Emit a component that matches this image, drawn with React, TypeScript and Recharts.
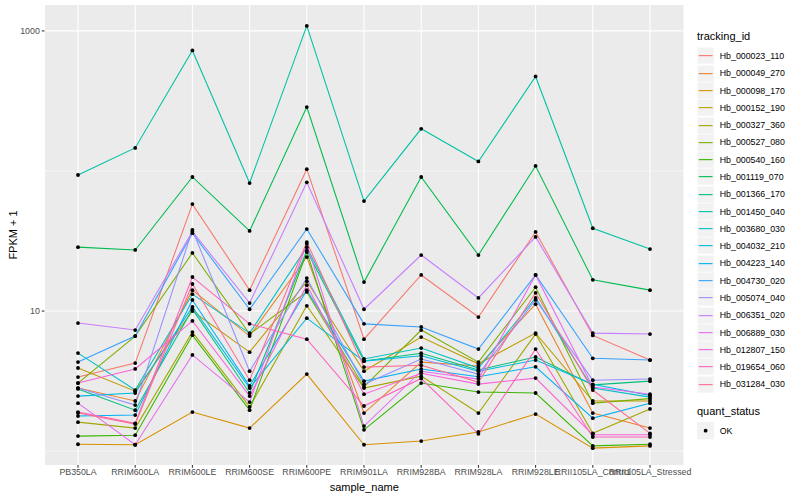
import React from "react";
import { ComposedChart, Line, XAxis, YAxis, CartesianGrid } from "recharts";

const samples = [
  "PB350LA", "RRIM600LA", "RRIM600LE", "RRIM600SE", "RRIM600PE", "RRIM901LA",
  "RRIM928BA", "RRIM928LA", "RRIM928LE", "RRII105LA_Control", "RRII105LA_Stressed",
];

const trackingIds = [
  "Hb_000023_110", "Hb_000049_270", "Hb_000098_170", "Hb_000152_190", "Hb_000327_360",
  "Hb_000527_080", "Hb_000540_160", "Hb_001119_070", "Hb_001366_170", "Hb_001450_040",
  "Hb_003680_030", "Hb_004032_210", "Hb_004223_140", "Hb_004730_020", "Hb_005074_040",
  "Hb_006351_020", "Hb_006889_030", "Hb_012807_150", "Hb_019654_060", "Hb_031284_030",
];

// FPKM + 1, one value per sample
const hb000023_110 = [3.38, 4.25, 58, 14.1, 103, 6.3, 18.1, 9.06, 36.7, 6.7, 4.47];
const hb000049_270 = [2.82, 2.28, 14.1, 6.63, 24.3, 1.87, 4.32, 4.05, 11.2, 1.87, 1.46];
const hb000098_170 = [1.12, 1.11, 1.9, 1.46, 3.55, 1.11, 1.18, 1.37, 1.84, 1.05, 1.09];
const hb000152_190 = [3.92, 2.68, 10, 5.09, 16.3, 3.72, 6.52, 4.2, 6.96, 2.28, 2.28];
const hb000327_360 = [1.61, 1.46, 7.08, 2.07, 10.9, 2.82, 3.43, 1.87, 6.85, 1.34, 2.0];
const hb000527_080 = [3.06, 6.63, 26, 6.85, 13.7, 2.87, 7.32, 4.32, 14.8, 2.2, 2.37];
const hb000540_160 = [1.28, 1.3, 6.73, 1.96, 26.4, 1.42, 3.06, 2.64, 2.6, 1.09, 1.12];
const hb001119_070 = [28.6, 27.3, 90.6, 37.3, 286, 16.1, 90.6, 25.1, 108.6, 16.7, 14.1];
const hb001366_170 = [2.78, 1.96, 10.3, 2.6, 27, 4.4, 5.0, 3.8, 4.7, 2.97, 3.16];
const hb001450_040 = [93.6, 146, 725, 82, 1086, 61, 200, 117, 473, 39, 27.7];
const hb003680_030 = [5.01, 2.73, 13.2, 6.96, 28.6, 4.55, 5.44, 3.92, 12.4, 2.82, 2.43];
const hb004032_210 = [2.47, 2.6, 10.7, 2.82, 8.9, 4.39, 4.8, 3.72, 4.47, 3.0, 2.5];
const hb004223_140 = [1.78, 1.81, 12, 2.92, 14.1, 3.16, 3.86, 3.4, 4.0, 1.72, 2.2];
const hb004730_020 = [4.32, 6.63, 36, 10.3, 38.5, 8.1, 7.7, 5.35, 18.1, 4.6, 4.47];
const hb005074_040 = [2.82, 2.13, 38, 3.72, 17.2, 3.0, 4.55, 3.55, 12.0, 3.21, 3.27];
const hb006351_020 = [8.21, 7.32, 37, 11.4, 83, 10.3, 25.1, 12.4, 33.8, 6.96, 6.85];
const hb006889_030 = [2.2, 1.11, 4.86, 2.24, 30.2, 1.51, 3.72, 3.27, 18.1, 2.87, 2.55];
const hb012807_150 = [3.06, 3.86, 8.5, 2.47, 15.3, 2.55, 3.6, 3.01, 3.32, 1.31, 1.31];
const hb019654_060 = [1.9, 1.58, 17.5, 8.1, 6.3, 2.1, 3.3, 1.33, 5.35, 1.26, 1.26];
const hb031284_030 = [1.87, 1.56, 15.6, 3.21, 31.1, 3.98, 4.1, 3.11, 13.5, 2.73, 1.34];

const seriesValues = [
  hb000023_110, hb000049_270, hb000098_170, hb000152_190, hb000327_360,
  hb000527_080, hb000540_160, hb001119_070, hb001366_170, hb001450_040,
  hb003680_030, hb004032_210, hb004223_140, hb004730_020, hb005074_040,
  hb006351_020, hb006889_030, hb012807_150, hb019654_060, hb031284_030,
];

// ggplot hue palette, 20 levels
const COLORS = [
  "#F8766D", "#EA8331", "#D89000", "#C09B00", "#A3A500", "#7CAE00", "#39B600",
  "#00BB4E", "#00BF7D", "#00C1A3", "#00BFC4", "#00BAE0", "#00B0F6", "#35A2FF",
  "#9590FF", "#C77CFF", "#E76BF3", "#FA62DB", "#FF62BC", "#FF6C91",
];

const yTicks = [10, 1000];

const chartData = samples.map((sample, i) => {
  const row: Record<string, string | number> = { sample };
  trackingIds.forEach((id, k) => {
    row[id] = seriesValues[k][i];
  });
  return row;
});

const FONT = '"Liberation Sans", Arial, Helvetica, sans-serif';
const KEY = 17.28;

const App: React.FC = () => {
  return (
    <div style={{ position: "absolute", left: 0, top: 0, width: 800, height: 500, background: "#fff", fontFamily: FONT }}>
      <ComposedChart width={800} height={500} data={chartData} margin={{ top: 5, right: 116, bottom: 0, left: 0 }}>
        <CartesianGrid fill="#EBEBEB" stroke="#fff" strokeWidth={0.55} vertical={false} horizontalValues={[1, 100]} />
        <CartesianGrid stroke="#fff" strokeWidth={1.07} horizontalValues={yTicks} />
        <XAxis
          dataKey="sample"
          interval={0}
          padding={{ left: 33.5, right: 34 }}
          axisLine={false}
          tickSize={2.7}
          tickMargin={1}
          tickLine={{ stroke: "#333333", strokeWidth: 1.07 }}
          tick={{ fontSize: 8.8, fill: "#4D4D4D", fontFamily: FONT }}
          height={35}
        />
        <YAxis
          scale="log"
          domain={[0.796, 1531]}
          allowDataOverflow
          ticks={yTicks}
          axisLine={false}
          tickSize={2.7}
          tickMargin={2}
          tickLine={{ stroke: "#333333", strokeWidth: 1.07 }}
          tick={{ fontSize: 8.8, fill: "#4D4D4D", fontFamily: FONT }}
          width={44.5}
        />
        {trackingIds.map((id, k) => (
          <Line
            key={id}
            type="linear"
            dataKey={id}
            stroke={COLORS[k]}
            strokeWidth={1.07}
            dot={false}
            activeDot={false}
            isAnimationActive={false}
          />
        ))}
        {trackingIds.map((id) => (
          <Line
            key={"pt-" + id}
            type="linear"
            dataKey={id}
            stroke="none"
            dot={{ r: 1.9, fill: "#000", stroke: "none" }}
            activeDot={false}
            isAnimationActive={false}
            legendType="none"
          />
        ))}
      </ComposedChart>

      <div style={{ position: "absolute", left: 0, top: 481, width: 728.5, textAlign: "center", fontSize: 11, color: "#000" }}>
        sample_name
      </div>
      <div
        style={{
          position: "absolute", left: 13, top: 235, fontSize: 11, color: "#000", whiteSpace: "nowrap",
          transform: "translate(-50%, -50%) rotate(-90deg)",
        }}
      >
        FPKM + 1
      </div>

      <div style={{ position: "absolute", left: 697, top: 30, fontSize: 11, color: "#000" }}>tracking_id</div>
      {trackingIds.map((id, k) => (
        <div key={id} style={{ position: "absolute", left: 697, top: 47.4 + k * KEY, height: KEY, display: "flex", alignItems: "center" }}>
          <svg width={KEY} height={KEY} style={{ display: "block" }}>
            <rect x={0} y={0} width={KEY} height={KEY} fill="#F2F2F2" stroke="#fff" strokeWidth={1} />
            <line x1={1.7} x2={KEY - 1.7} y1={KEY / 2} y2={KEY / 2} stroke={COLORS[k]} strokeWidth={1.1} />
          </svg>
          <span style={{ marginLeft: 5.5, fontSize: 8.8, color: "#000" }}>{id}</span>
        </div>
      ))}
      <div style={{ position: "absolute", left: 697, top: 405, fontSize: 11, color: "#000" }}>quant_status</div>
      <div style={{ position: "absolute", left: 697, top: 422.4, height: KEY, display: "flex", alignItems: "center" }}>
        <svg width={KEY} height={KEY} style={{ display: "block" }}>
          <rect x={0} y={0} width={KEY} height={KEY} fill="#F2F2F2" />
          <circle cx={KEY / 2} cy={KEY / 2} r={1.9} fill="#000" />
        </svg>
        <span style={{ marginLeft: 5.5, fontSize: 8.8, color: "#000" }}>OK</span>
      </div>
    </div>
  );
};

export default App;
